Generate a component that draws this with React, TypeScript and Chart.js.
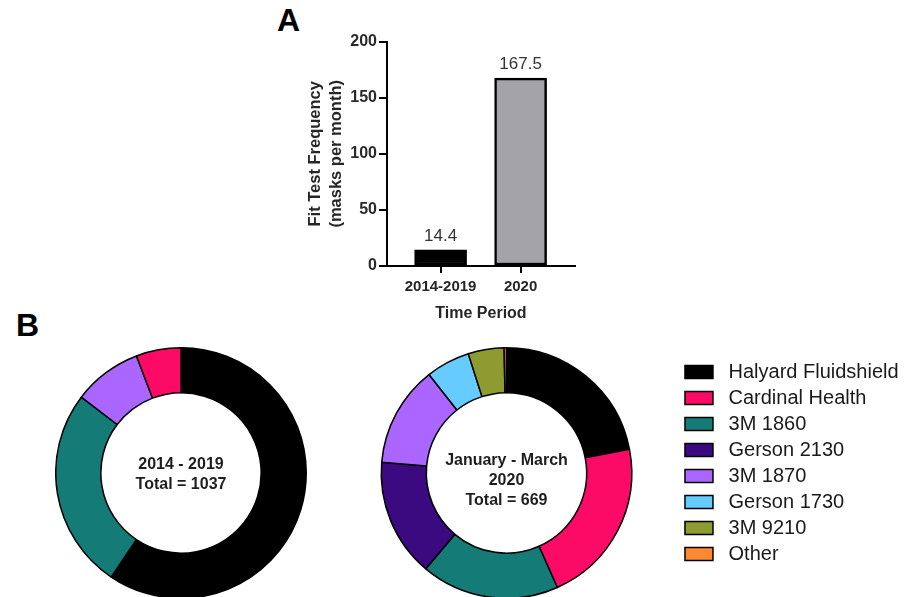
import React, { useEffect, useRef } from 'react';
import { Chart, registerables } from 'chart.js';

Chart.register(...registerables);

const FONT = '"Liberation Sans", Arial, Helvetica, sans-serif';
Chart.defaults.font.family = FONT;

// ---- Panel A data ----
const periodLabels = ['2014-2019', '2020'];
const periodPositions = [1, 2];
const fitTestFrequency = [14.4, 167.5];
const barColors = ['#000000', '#a4a4a8'];
const yAxisMax = 200;
const yAxisStep = 50;

// ---- Panel B data ----
const maskTypes = [
  'Halyard Fluidshield',
  'Cardinal Health',
  '3M 1860',
  'Gerson 2130',
  '3M 1870',
  'Gerson 1730',
  '3M 9210',
  'Other',
];
const maskColors = ['#000000', '#fb0a66', '#147b76', '#3c0a80', '#aa66ff', '#66ccff', '#8d9b31', '#ff8833'];
const masks2014Types = ['Halyard Fluidshield', '3M 1860', '3M 1870', 'Cardinal Health'];
const masks2014Counts = [616, 269, 92, 60];
const masks2020Counts = [147, 143, 119, 102, 87, 38, 31, 2];
const center2014 = ['2014 - 2019', 'Total = 1037'];
const center2020 = ['January - March', '2020', 'Total = 669'];

const colorFor = (t: string) => maskColors[maskTypes.indexOf(t)];

const valueLabelPlugin = {
  id: 'valueLabels',
  afterDatasetsDraw(chart: any) {
    const ctx = chart.ctx;
    const meta = chart.getDatasetMeta(0);
    ctx.save();
    ctx.font = `17px ${FONT}`;
    ctx.fillStyle = '#333333';
    ctx.textAlign = 'center';
    ctx.textBaseline = 'middle';
    meta.data.forEach((bar: any, i: number) => {
      ctx.fillText(String(fitTestFrequency[i]), bar.x, bar.y - 14);
    });
    ctx.restore();
  },
};

function centerTextPlugin(lines: string[], firstOffset: number) {
  return {
    id: 'centerText',
    afterDraw(chart: any) {
      const { ctx, chartArea } = chart;
      const cx = (chartArea.left + chartArea.right) / 2;
      const cy = (chartArea.top + chartArea.bottom) / 2;
      ctx.save();
      ctx.font = `bold 16px ${FONT}`;
      ctx.fillStyle = '#1e1e1e';
      ctx.textAlign = 'center';
      ctx.textBaseline = 'middle';
      lines.forEach((l, i) => ctx.fillText(l, cx, cy + firstOffset + i * 20));
      ctx.restore();
    },
  };
}

export default function App() {
  const barRef = useRef<HTMLCanvasElement>(null);
  const d1Ref = useRef<HTMLCanvasElement>(null);
  const d2Ref = useRef<HTMLCanvasElement>(null);

  useEffect(() => {
    const charts: Chart[] = [];
    if (barRef.current) {
      charts.push(
        new Chart(barRef.current, {
          type: 'bar',
          data: {
            datasets: [
              {
                data: periodPositions.map((x, i) => ({ x, y: fitTestFrequency[i] })),
                backgroundColor: barColors,
                borderColor: '#000000',
                borderWidth: 2.5,
                borderSkipped: false,
                barThickness: 52,
              } as any,
            ],
          },
          options: {
            animation: false,
            responsive: false,
            layout: { padding: { top: 9, right: 15, left: 0, bottom: 0 } },
            plugins: { legend: { display: false }, tooltip: { enabled: false } },
            scales: {
              x: {
                type: 'linear',
                offset: false,
                min: 0.33,
                max: 2.68,
                afterBuildTicks: (s: any) => {
                  s.ticks = periodPositions.map((v) => ({ value: v }));
                },
                afterFit: (s: any) => {
                  s.height = 64;
                },
                ticks: {
                  callback: (_v: any, i: number) => periodLabels[i],
                  font: { size: 15, weight: 'bold' },
                  color: '#262626',
                  padding: 5,
                  maxRotation: 0,
                  autoSkip: false,
                },
                grid: { offset: false, drawOnChartArea: false, color: '#000', lineWidth: 2, tickLength: 7 },
                border: { color: '#000', width: 2 },
                title: {
                  display: true,
                  text: 'Time Period',
                  font: { size: 16, weight: 'bold' },
                  color: '#262626',
                  padding: { top: 0, bottom: 7 },
                },
              } as any,
              y: {
                min: 0,
                max: yAxisMax,
                afterFit: (s: any) => {
                  s.width = 97;
                },
                ticks: {
                  stepSize: yAxisStep,
                  font: { size: 16, weight: 'bold' },
                  color: '#2a2a2a',
                  padding: 2,
                },
                grid: { drawOnChartArea: false, color: '#000', lineWidth: 2, tickLength: 8 },
                border: { color: '#000', width: 2 },
                title: {
                  display: true,
                  text: ['Fit Test Frequency', '(masks per month)'],
                  font: { size: 16.5, weight: 'bold', lineHeight: 1.27 },
                  color: '#262626',
                  padding: { top: 15, bottom: 0 },
                },
              } as any,
            },
          },
          plugins: [valueLabelPlugin],
        })
      );
    }
    if (d1Ref.current) {
      charts.push(
        new Chart(d1Ref.current, {
          type: 'doughnut',
          data: {
            labels: masks2014Types,
            datasets: [
              {
                data: masks2014Counts,
                backgroundColor: masks2014Types.map(colorFor),
                borderColor: '#000000',
                borderWidth: 1.5,
              },
            ],
          },
          options: {
            animation: false,
            responsive: false,
            cutout: '64%',
            plugins: { legend: { display: false }, tooltip: { enabled: false } },
          } as any,
          plugins: [centerTextPlugin(center2014, -8)],
        })
      );
    }
    if (d2Ref.current) {
      const baseGen = (Chart as any).overrides.doughnut.plugins.legend.labels.generateLabels;
      charts.push(
        new Chart(d2Ref.current, {
          type: 'doughnut',
          data: {
            labels: maskTypes,
            datasets: [
              {
                data: masks2020Counts,
                backgroundColor: maskColors,
                borderColor: '#000000',
                borderWidth: 1.5,
              },
            ],
          },
          options: {
            animation: false,
            responsive: false,
            cutout: '64%',
            layout: { padding: { left: 0, top: 0, bottom: 0, right: 4.4 } },
            plugins: {
              tooltip: { enabled: false },
              legend: {
                display: true,
                position: 'right',
                align: 'start',
                title: { display: true, text: '', font: { size: 9, lineHeight: 1 }, padding: 0 },
                labels: {
                  boxWidth: 28,
                  boxHeight: 13,
                  padding: 6,
                  color: '#1a1a1a',
                  font: { size: 20 },
                  generateLabels: (chart: any) =>
                    baseGen(chart).map((it: any) => ({ ...it, text: ' ' + it.text })),
                },
              },
            },
          } as any,
          plugins: [centerTextPlugin(center2020, -12)],
        })
      );
    }
    return () => charts.forEach((c) => c.destroy());
  }, []);

  const letter: React.CSSProperties = {
    position: 'absolute',
    fontFamily: FONT,
    fontWeight: 'bold',
    fontSize: 32,
    lineHeight: '32px',
    color: '#000',
  };

  return (
    <div
      style={{
        position: 'fixed',
        left: 0,
        top: 0,
        width: 913,
        height: 597,
        overflow: 'hidden',
        background: '#fff',
      }}
    >
      <div style={{ ...letter, left: 277, top: 4 }}>A</div>
      <div style={{ ...letter, left: 16, top: 309 }}>B</div>
      <canvas
        ref={barRef}
        width={300}
        height={300}
        style={{ position: 'absolute', left: 290, top: 30, width: 300, height: 300 }}
      />
      <canvas
        ref={d1Ref}
        width={252}
        height={252}
        style={{ position: 'absolute', left: 55, top: 347, width: 252, height: 252 }}
      />
      <canvas
        ref={d2Ref}
        width={579}
        height={252}
        style={{ position: 'absolute', left: 334, top: 347, width: 579, height: 252 }}
      />
    </div>
  );
}
